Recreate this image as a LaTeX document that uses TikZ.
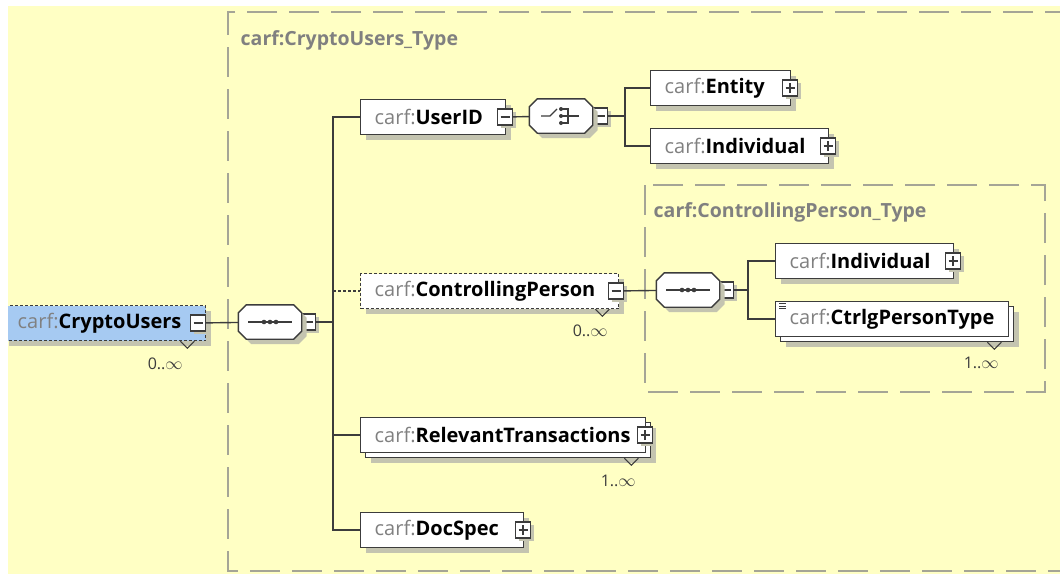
\documentclass[tikz,border=0pt]{standalone}
\usepackage{fontspec}
\setmainfont{Open Sans}
\usepackage{xcolor}
\usepackage{tikz}
\usetikzlibrary{shapes,shadows,positioning}
\definecolor{bgyel}{RGB}{255,255,196}
\definecolor{frm}{RGB}{165,165,150}
\definecolor{lin}{RGB}{60,60,60}
\definecolor{pfx}{RGB}{128,128,128}
\definecolor{shd}{RGB}{196,196,176}
\definecolor{selblue}{RGB}{166,202,242}
\newcommand{\elfont}{\fontsize{20}{23}\selectfont}
\newcommand{\xn}[1]{{\color{pfx}carf:}\textbf{#1}}
\tikzset{elem/.style={rectangle,draw=lin,fill=white,line width=1.4pt,minimum height=35pt,anchor=west,inner xsep=14pt,inner ysep=0pt,align=left,font=\elfont,drop shadow={shadow xshift=5pt,shadow yshift=-5pt,fill=shd,opacity=1}}}
\tikzset{opt/.style={dash pattern=on 3pt off 2pt}}
\tikzset{multi/.style={drop shadow={shadow xshift=10pt,shadow yshift=-10pt,fill=shd,opacity=1},copy shadow={shadow xshift=5pt,shadow yshift=-5pt,draw=lin,fill=white}}}
\tikzset{pmb/.style={rectangle,draw=lin,fill=white,line width=1.1pt,minimum width=15pt,minimum height=16pt,inner sep=0pt,drop shadow={shadow xshift=3pt,shadow yshift=-3pt,fill=shd,opacity=1}}}
\tikzset{minus/.style={pmb,path picture={\draw[lin,line width=1.1pt] ([xshift=3pt]path picture bounding box.west) -- ([xshift=-3pt]path picture bounding box.east);}}}
\tikzset{plus/.style={pmb,path picture={\draw[lin,line width=1.1pt] ([xshift=3pt]path picture bounding box.west) -- ([xshift=-3pt]path picture bounding box.east) ([yshift=3pt]path picture bounding box.south) -- ([yshift=-3pt]path picture bounding box.north);}}}
\tikzset{sym/.style={rectangle,minimum width=62pt,minimum height=33pt,inner sep=0pt}}
\tikzset{symo/.style={draw=lin,fill=white,line width=1.4pt,drop shadow={shadow xshift=5pt,shadow yshift=-5pt,fill=shd,opacity=1}}}
\tikzset{ico/.style={lin,line width=1.2pt}}
\tikzset{occ/.style={font=\fontsize{16}{18}\selectfont,text=lin,inner sep=0pt,anchor=north east}}
\tikzset{frame/.style={draw=frm,line width=2pt,dash pattern=on 30pt off 12pt}}
\tikzset{tlabel/.style={text=pfx,font=\fontsize{19.5}{22}\selectfont\bfseries,anchor=west,inner sep=0pt}}

\begin{document}
\begin{tikzpicture}[x=1pt,y=-1pt,line width=1.4pt]
        \useasboundingbox (0,0) rectangle (1060,574);
        \fill[bgyel] (8,6) rectangle (1060,574);
        \draw[frame] (1075,12) -- (228,12) -- (228,571) -- (1075,571);
        \node[tlabel] (outt) at (240,40) {carf:CryptoUsers\_Type};
        \draw[frame] (645,185) rectangle (1045,392);
        \node[tlabel] (innt) at (653,212) {carf:ControllingPerson\_Type};

        \node[elem,opt,fill=selblue,text width=174pt] (cu) at (3,323) {\xn{CryptoUsers}};
        \node[minus] (cum) at (198,323) {};
        \node[sym] (seq) at (270,322) {};
        \node[minus] (seqm) at (308,322) {};
        \coordinate (tr) at (333,322);
        \node[elem,text width=117pt] (uid) at (360,117) {\xn{UserID}};
        \node[minus] (uidm) at (505,117) {};
        \node[sym] (ch) at (561,116) {};
        \node[minus] (chm) at (600,116) {};
        \coordinate (chb) at (625,116);
        \node[elem,text width=112pt] (ent) at (650,88) {\xn{Entity}};
        \node[plus] (entm) at (790,88) {};
        \node[elem,text width=150pt] (ind) at (650,146) {\xn{Individual}};
        \node[plus] (indm) at (828,146) {};
        \node[elem,opt,text width=230pt] (cp) at (360,291) {\xn{ControllingPerson}};
        \node[minus] (cpm) at (616,291) {};
        \node[sym] (iseq) at (688,290) {};
        \node[minus] (iseqm) at (726,290) {};
        \coordinate (ib) at (748,290);
        \node[elem,text width=150pt] (ind2) at (775,261) {\xn{Individual}};
        \node[plus] (ind2m) at (953,261) {};
        \node[elem,multi,text width=205pt] (cpt) at (775,319) {\xn{CtrlgPersonType}};
        \node[elem,multi,text width=257pt] (rt) at (360,435) {\xn{RelevantTransactions}};
        \node[plus] (rtm) at (645,435) {};
        \node[elem,text width=135pt] (ds) at (360,530) {\xn{DocSpec}};
        \node[plus] (dsm) at (523,530) {};

        \foreach \s in {seq,iseq,ch}
          \path[symo] ([xshift=8pt]\s.north west) -- ([xshift=-8pt]\s.north east) -- ([yshift=-8pt]\s.north east) -- ([yshift=8pt]\s.south east)
            -- ([xshift=-8pt]\s.south east) -- ([xshift=8pt]\s.south west) -- ([yshift=8pt]\s.south west) -- ([yshift=-8pt]\s.north west) -- cycle;
        \foreach \s in {seq,iseq} {
          \draw[ico] ([xshift=10pt]\s.west) -- ([xshift=-10pt]\s.east);
          \foreach \d in {-6,0,6} \fill[lin] ([xshift=\d pt]\s.center) circle (2.3pt);
        }
        \draw[ico] ([xshift=-20pt]ch.center) -- ++(9pt,0) -- ++(7pt,7pt);
        \draw[ico] ([yshift=7pt]ch.center) -- ++(7pt,0) -- ++(0,-14pt) -- ++(-7pt,0);
        \draw[ico] (ch.center) -- ++(18pt,0);
        \foreach \d in {-7,0,7} \fill[lin] ([yshift=\d pt]ch.center) circle (2pt);

        \foreach \d in {3,5.5,8} \draw[lin,line width=0.7pt] ([shift={(4pt,-\d pt)}]cpt.north west) -- ++(7pt,0);

        \node[occ] (cuo) at ([shift={(-23pt,-16pt)}]cu.south east) {0..$\infty$};
        \node[occ] (cpo) at ([shift={(-11pt,-15pt)}]cp.south east) {0..$\infty$};
        \node[occ] (rto) at ([shift={(-10pt,-21pt)}]rt.south east) {1..$\infty$};
        \node[occ] (cpto) at ([shift={(-10pt,-19pt)}]cpt.south east) {1..$\infty$};
        \draw[lin,line width=1.1pt] ([xshift=-26pt]cu.south east) -- ++(7pt,-7pt) -- ++(7pt,7pt);
        \draw[lin,line width=1.1pt] ([xshift=-24pt]cp.south east) -- ++(7pt,-7pt) -- ++(7pt,7pt);
        \draw[lin,line width=1.1pt] ([shift={(-22pt,-5pt)}]rt.south east) -- ++(7pt,-7pt) -- ++(7pt,7pt);
        \draw[lin,line width=1.1pt] ([shift={(-22pt,-5pt)}]cpt.south east) -- ++(7pt,-7pt) -- ++(7pt,7pt);

        \draw [lin] (cum) to [] (seq);
        \draw [lin] (seqm) to [] (tr);
        \draw [lin] (tr) |- (uid);
        \draw [lin] (tr) |- (rt);
        \draw [lin] (tr) |- (ds);
        \draw [lin,opt] (tr |- cp) to [] (cp);
        \draw [lin] (uidm) to [] (ch);
        \draw [lin] (chm) to [] (chb);
        \draw [lin] (chb) |- (ent);
        \draw [lin] (chb) |- (ind);
        \draw [lin] (cpm) to [] (iseq);
        \draw [lin] (iseqm) to [] (ib);
        \draw [lin] (ib) |- (ind2);
        \draw [lin] (ib) |- (cpt);

        \fill[white] (0,0) rectangle (8,574);
    \end{tikzpicture}
\end{document}
